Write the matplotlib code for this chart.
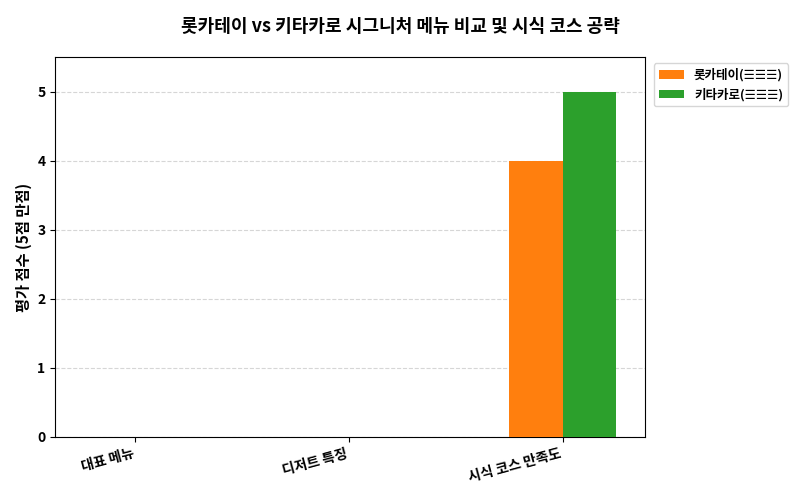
import matplotlib
matplotlib.use("Agg")
import matplotlib.pyplot as plt
import numpy as np

plt.rcParams['font.family'] = ['Noto Sans CJK KR', 'DejaVu Sans']

categories = ["대표 메뉴", "디저트 특징", "시식 코스 만족도"]
rokkatei = [0, 0, 4]
kitakaro = [0, 0, 5]
labels = ["롯카테이(☰☰☰)", "키타카로(☰☰☰)"]

fig = plt.figure(figsize=(8, 5), dpi=100)
ax = fig.add_axes([0.069, 0.126, 0.737, 0.76])
x = np.arange(len(categories))
w = 0.25
ax.bar(x - w/2, rokkatei, w, color="#ff7f0e", label=labels[0], zorder=3)
ax.bar(x + w/2, kitakaro, w, color="#2ca02c", label=labels[1], zorder=3)
ax.set_xlim(-0.375, 2.385)
ax.set_ylim(0, 5.5)
ax.set_xticks(x)
ax.set_xticklabels(categories, rotation=15, ha="right", fontweight="bold")
ax.set_yticks(range(6))
for t in ax.get_yticklabels():
    t.set_fontweight("bold")
ax.tick_params(labelsize=10)
ax.grid(axis="y", linestyle="--", color="#cccccc", alpha=0.8, zorder=0)
ax.set_ylabel("평가 점수 (5점 만점)", fontweight="bold", fontsize=11)
fig.suptitle("롯카테이 vs 키타카로 시그니처 메뉴 비교 및 시식 코스 공략", fontweight="bold", fontsize=13, y=0.965)
leg = ax.legend(loc="upper left", bbox_to_anchor=(1.005, 1.0), prop={'weight': 'bold', 'size': 9})
fig.savefig("out.png")
